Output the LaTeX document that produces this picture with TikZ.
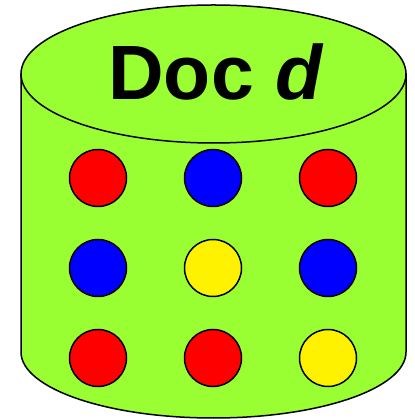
\documentclass[tikz,border=0pt]{standalone}
\usepackage{fontspec}
\setmainfont{Liberation Sans}
\usepackage{tikz}
\definecolor{docgreen}{RGB}{153,255,51}
\tikzset{
  dot/.style={circle, draw=black, line width=1.5pt, minimum size=57pt, inner sep=0pt},
  drum/.style={draw=black, fill=docgreen, line width=1.5pt}
}

\begin{document}
\begin{tikzpicture}[x=1pt, y=1pt]
  \useasboundingbox (0,0) rectangle (414,419);
  % body of the drum
  \draw[drum] (21,345) -- (21,67) arc[start angle=180, end angle=360, x radius=192.5pt, y radius=66pt] -- (406,345) -- cycle;
  \draw[drum] (213.5,345) ellipse[x radius=192.5pt, y radius=69pt];
  \node[anchor=base, font=\fontsize{77}{80}\selectfont\bfseries] (title) at (216,319) {Doc \textit{d}};

  \node[dot, fill=red]    (c11) at (98,241) {};
  \node[dot, fill=blue]   (c12) at (213,241) {};
  \node[dot, fill=red]    (c13) at (328,241) {};
  \node[dot, fill=blue]   (c21) at (98,151) {};
  \node[dot, fill=yellow] (c22) at (213,151) {};
  \node[dot, fill=blue]   (c23) at (328,151) {};
  \node[dot, fill=red]    (c31) at (98,61) {};
  \node[dot, fill=red]    (c32) at (213,61) {};
  \node[dot, fill=yellow] (c33) at (328,61) {};
\end{tikzpicture}
\end{document}
